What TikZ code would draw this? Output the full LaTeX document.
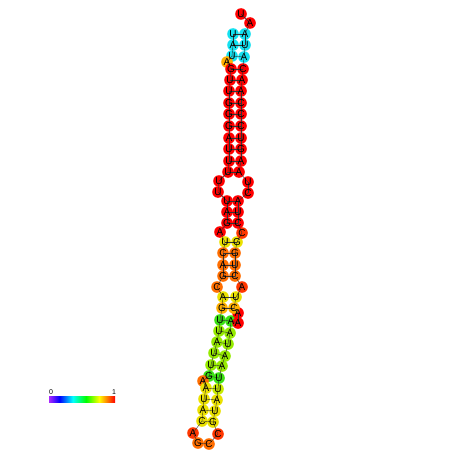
\documentclass[tikz,border=0pt]{standalone}
\usepackage{fontspec}
\setmainfont{Liberation Sans}
\definecolor{cR}{RGB}{255,0,0}
\definecolor{cC}{RGB}{20,225,240}
\definecolor{cO}{RGB}{255,110,0}
\definecolor{cRO}{RGB}{255,55,0}
\definecolor{cYO}{RGB}{255,175,0}
\definecolor{cY}{RGB}{235,225,0}
\definecolor{cYG}{RGB}{200,235,0}
\definecolor{cLG}{RGB}{150,235,0}
\definecolor{cG}{RGB}{60,225,20}
\definecolor{cbpurple}{RGB}{170,40,255}
\pgfdeclarehorizontalshading{rainbowbar}{100bp}{color(0bp)=(cbpurple); color(25bp)=(cbpurple); color(33bp)=(blue); color(43bp)=(cyan); color(53bp)=(green); color(63bp)=(yellow); color(69bp)=(orange); color(75bp)=(red); color(100bp)=(red)}
\tikzset{
  nt/.style={circle, inner sep=0pt, minimum size=11.6pt},
  ltr/.style={inner sep=0pt, font=\fontsize{10}{10}\selectfont},
  bb/.style={line width=0.4pt, black!80},
  bp/.style={line width=0.4pt, black!80}
}
\begin{document}
\begin{tikzpicture}[x=1pt,y=-1pt]
\useasboundingbox (0,0) rectangle (452,452);
\fill[white] (0,0) rectangle (452,452);
% nucleotides: index/x/y/letter/colour
\def\ntlist{1/233/34/U/cC, 2/233/45/A/cC, 3/232/56/U/cC, 4/227/62/A/cYO, 5/231/69/G/cR, 6/230/80/U/cR, 7/229/91/U/cR, 8/229/103/G/cR, 9/229/114/G/cR, 10/229/126/G/cR, 11/229/138/A/cR, 12/229/149/U/cR, 13/229/161/U/cR, 14/228/172/U/cR, 15/219/181/U/cR, 16/218/192/U/cR, 17/227/201/U/cR, 18/227/212/A/cR, 19/227/223/G/cR, 20/220/232/A/cR, 21/225/242/U/cY, 22/223/253/C/cO, 23/223/265/A/cO, 24/223/276/G/cO, 25/217/287/C/cO, 26/223/297/A/cY, 27/222/308/G/cYO, 28/220/320/U/cG, 29/219/331/U/cLG, 30/217/342/A/cLG, 31/214/353/U/cLG, 32/211/365/U/cLG, 33/209/376/G/cG, 34/203/381/A/cO, 35/206/388/A/cY, 36/204/399/U/cY, 37/203/410/A/cY, 38/202/421/C/cY, 39/193/433/A/cRO, 40/198/443/G/cO, 41/209/444/C/cO, 42/218/434/C/cRO, 43/213/422/G/cY, 44/215/411/U/cY, 45/217/400/A/cY, 46/218/389/U/cYG, 47/219/378/U/cG, 48/222/366/A/cLG, 49/225/356/A/cLG, 50/228/344/U/cLG, 51/230/333/A/cLG, 52/231/321/A/cG, 53/238/323/A/cR, 54/238/313/A/cR, 55/234/308/C/cYO, 56/236/297/U/cY, 57/242/287/A/cRO, 58/235/276/C/cO, 59/235/265/U/cO, 60/235/253/G/cO, 61/237/242/G/cY, 62/242/233/C/cRO, 63/238/223/C/cR, 64/238/212/U/cR, 65/238/201/A/cR, 66/248/193/C/cR, 67/248/182/U/cR, 68/239/172/A/cR, 69/241/161/A/cR, 70/241/149/G/cR, 71/241/138/U/cR, 72/241/126/C/cR, 73/241/114/C/cR, 74/241/103/C/cR, 75/241/91/A/cR, 76/242/80/A/cR, 77/243/69/C/cR, 78/244/57/A/cC, 79/245/45/U/cC, 80/245/34/A/cC, 81/250/23/A/cR, 82/241/14/U/cR}
\foreach \i/\x/\y/\l/\c in \ntlist {
  \node[nt, fill=\c] (n\i) at (\x,\y) {};
}
% backbone
\foreach \i in {1,...,81} {
  \pgfmathtruncatemacro{\j}{\i+1}
  \draw[bb] (n\i.center) -- (n\j.center);
}
% base pairs
\foreach \a/\b in {1/80, 2/79, 3/78, 5/77, 6/76, 7/75, 8/74, 9/73, 10/72, 11/71, 12/70, 13/69, 14/68, 17/65, 18/64, 19/63, 21/61, 22/60, 23/59, 24/58, 26/56, 27/55, 28/52, 29/51, 30/50, 31/49, 32/48, 33/47, 35/46, 36/45, 37/44, 38/43} {
  \draw[bp] (n\a.center) -- (n\b.center);
}
% letters
\foreach \i/\x/\y/\l/\c in \ntlist {
  \node[ltr] (t\i) at (n\i) {\l};
}
% colour bar
\shade[shading=rainbowbar] (49,396) rectangle (115,402);
\node[inner sep=0pt, font=\fontsize{7}{7}\selectfont] (lab0) at (51,392) {0};
\node[inner sep=0pt, font=\fontsize{7}{7}\selectfont] (lab1) at (114,392) {1};
\end{tikzpicture}
\end{document}
